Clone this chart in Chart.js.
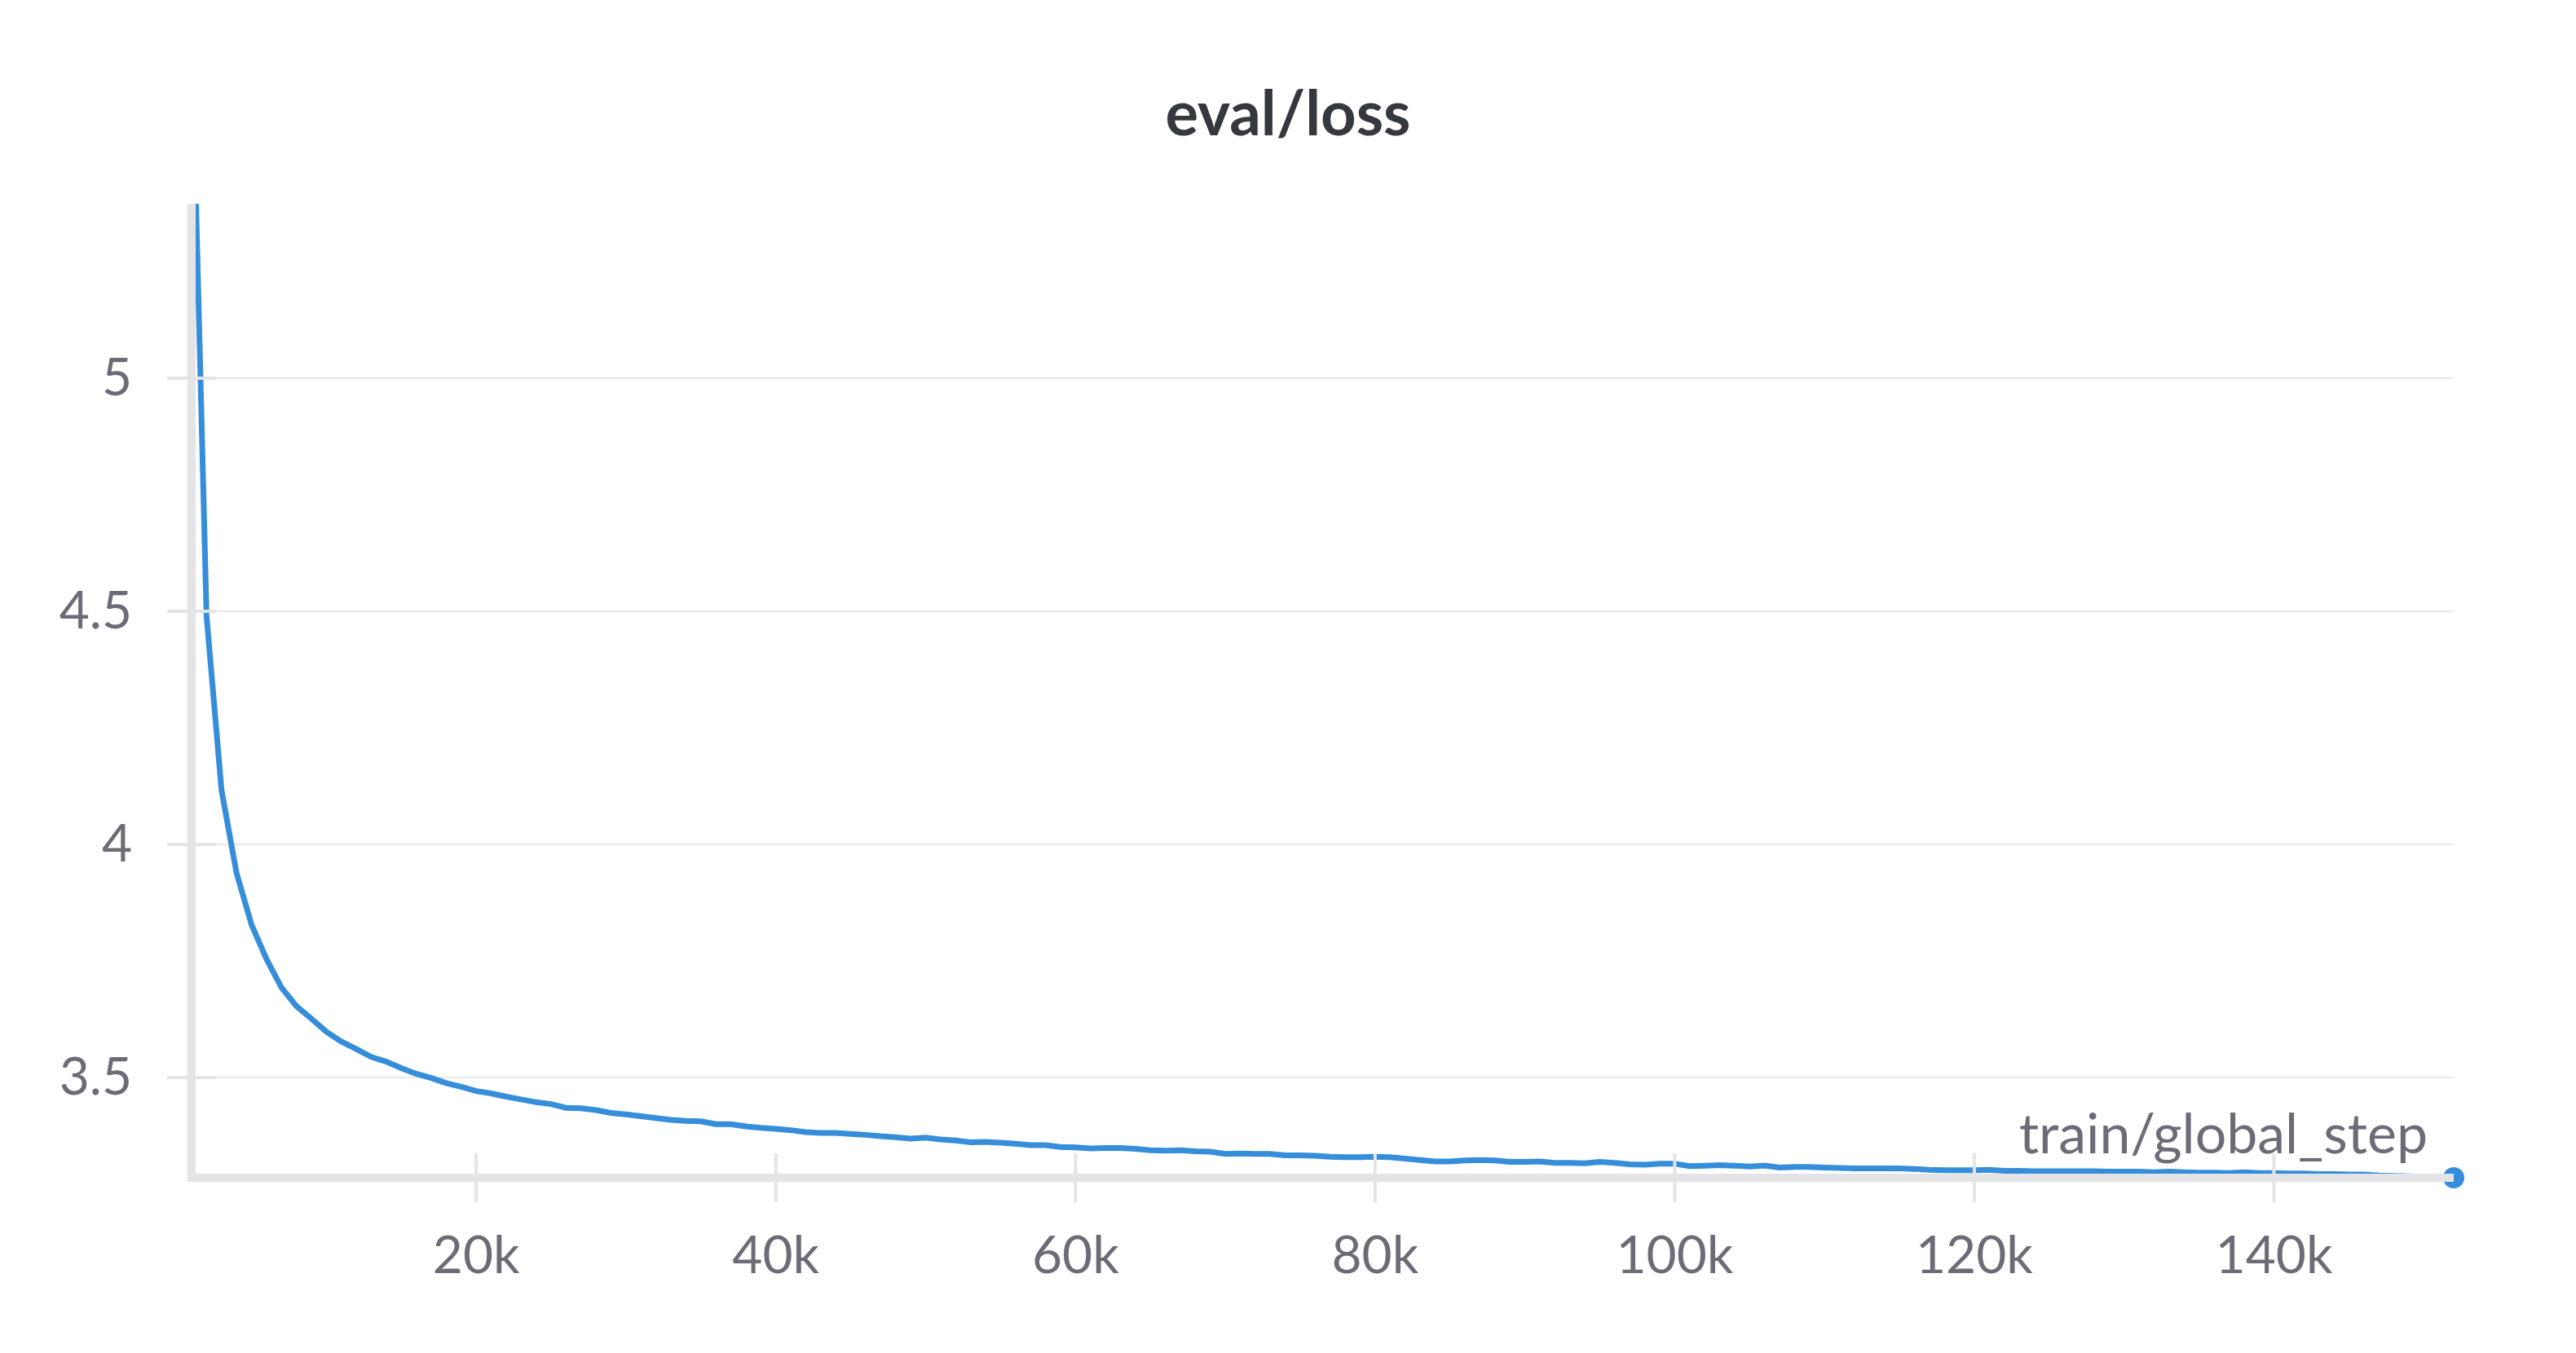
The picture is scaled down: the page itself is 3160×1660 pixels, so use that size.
<!DOCTYPE html>
<html>
<head>
<meta charset="utf-8">
<script src="https://cdn.jsdelivr.net/npm/chart.js@4.4.0/dist/chart.umd.min.js"></script>
<style>
    html, body { margin: 0; padding: 0; background: #ffffff; }
    #wrap { width: 3160px; height: 1660px; }
</style>
</head>
<body>
<div id="wrap"><canvas id="lossChart" width="3160" height="1660"></canvas></div>
<script>
        // eval/loss against train/global_step, one eval every 1000 steps
        const steps = [
            1000, 2000, 3000, 4000, 5000, 6000, 7000, 8000, 9000, 10000,
            11000, 12000, 13000, 14000, 15000, 16000, 17000, 18000, 19000, 20000,
            21000, 22000, 23000, 24000, 25000, 26000, 27000, 28000, 29000, 30000,
            31000, 32000, 33000, 34000, 35000, 36000, 37000, 38000, 39000, 40000,
            41000, 42000, 43000, 44000, 45000, 46000, 47000, 48000, 49000, 50000,
            51000, 52000, 53000, 54000, 55000, 56000, 57000, 58000, 59000, 60000,
            61000, 62000, 63000, 64000, 65000, 66000, 67000, 68000, 69000, 70000,
            71000, 72000, 73000, 74000, 75000, 76000, 77000, 78000, 79000, 80000,
            81000, 82000, 83000, 84000, 85000, 86000, 87000, 88000, 89000, 90000,
            91000, 92000, 93000, 94000, 95000, 96000, 97000, 98000, 99000, 100000,
            101000, 102000, 103000, 104000, 105000, 106000, 107000, 108000, 109000, 110000,
            111000, 112000, 113000, 114000, 115000, 116000, 117000, 118000, 119000, 120000,
            121000, 122000, 123000, 124000, 125000, 126000, 127000, 128000, 129000, 130000,
            131000, 132000, 133000, 134000, 135000, 136000, 137000, 138000, 139000, 140000,
            141000, 142000, 143000, 144000, 145000, 146000, 147000, 148000, 149000, 150000,
            151000, 152000
        ];
        const evalLoss = [
            5.750, 4.490, 4.116, 3.939, 3.828, 3.754, 3.693, 3.653, 3.626, 3.598,
            3.577, 3.561, 3.544, 3.534, 3.520, 3.508, 3.499, 3.488, 3.480, 3.471,
            3.466, 3.459, 3.453, 3.447, 3.443, 3.435, 3.434, 3.430, 3.424, 3.421,
            3.417, 3.413, 3.409, 3.407, 3.406, 3.400, 3.400, 3.395, 3.392, 3.390,
            3.387, 3.383, 3.381, 3.381, 3.379, 3.377, 3.374, 3.372, 3.369, 3.371,
            3.367, 3.365, 3.361, 3.362, 3.360, 3.358, 3.355, 3.355, 3.351, 3.350,
            3.348, 3.349, 3.349, 3.347, 3.344, 3.343, 3.344, 3.342, 3.341, 3.336,
            3.337, 3.336, 3.336, 3.333, 3.333, 3.332, 3.330, 3.329, 3.329, 3.330,
            3.329, 3.326, 3.323, 3.320, 3.320, 3.322, 3.323, 3.322, 3.319, 3.319,
            3.320, 3.317, 3.317, 3.316, 3.319, 3.317, 3.314, 3.313, 3.315, 3.315,
            3.310, 3.311, 3.312, 3.311, 3.309, 3.311, 3.307, 3.308, 3.308, 3.307,
            3.306, 3.305, 3.305, 3.305, 3.305, 3.304, 3.302, 3.301, 3.301, 3.301,
            3.302, 3.300, 3.300, 3.299, 3.299, 3.299, 3.299, 3.299, 3.298, 3.298,
            3.298, 3.297, 3.298, 3.297, 3.296, 3.296, 3.295, 3.297, 3.295, 3.295,
            3.294, 3.294, 3.293, 3.293, 3.292, 3.292, 3.290, 3.289, 3.288, 3.287,
            3.286, 3.285
        ];
        const xTicks = [20000, 40000, 60000, 80000, 100000, 120000, 140000];
        const yTicks = [3.5, 4, 4.5, 5];
        const yMin = 3.285;
        const yMax = 5.374;

        const lineBlue = '#368edb';
        const axisGrey = '#e4e4e7';
        const gridGrey = '#e8e8ea';
        const labelGrey = '#6c6c77';
        const fontFamily = "Lato, 'Noto Sans', sans-serif";

        // wandb-style axes: thick light axis lines and ticks that cross them, drawn over the line
        const axisDecor = {
            id: 'axisDecor',
            afterDatasetsDraw(chart) {
                const { ctx, chartArea, scales } = chart;
                const x = scales.x, y = scales.y;
                ctx.save();
                ctx.strokeStyle = axisGrey;
                ctx.lineWidth = 4;
                yTicks.forEach(v => {
                    const py = y.getPixelForValue(v);
                    ctx.beginPath();
                    ctx.moveTo(chartArea.left - 30, py);
                    ctx.lineTo(chartArea.left + 30, py);
                    ctx.stroke();
                });
                xTicks.forEach(v => {
                    const px = x.getPixelForValue(v);
                    ctx.beginPath();
                    ctx.moveTo(px, chartArea.bottom - 30);
                    ctx.lineTo(px, chartArea.bottom + 30);
                    ctx.stroke();
                });
                ctx.lineWidth = 10;
                ctx.beginPath();
                ctx.moveTo(chartArea.left, chartArea.top);
                ctx.lineTo(chartArea.left, chartArea.bottom + 5);
                ctx.moveTo(chartArea.left - 5, chartArea.bottom);
                ctx.lineTo(chartArea.right, chartArea.bottom);
                ctx.stroke();

                ctx.fillStyle = labelGrey;
                ctx.font = '68px ' + fontFamily;
                ctx.textAlign = 'right';
                ctx.textBaseline = 'alphabetic';
                ctx.fillText('train/global_step', chartArea.right - 32, chartArea.bottom - 30);

                // panel title, centred on the whole panel
                ctx.fillStyle = '#35383d';
                ctx.font = 'bold 76px ' + fontFamily;
                ctx.textAlign = 'center';
                ctx.fillText('eval/loss', chart.width / 2, 166);
                ctx.restore();
            }
        };

        const ctx = document.getElementById('lossChart').getContext('2d');
        new Chart(ctx, {
            type: 'line',
            data: {
                datasets: [{
                    label: 'eval/loss',
                    data: steps.map((s, i) => ({ x: s, y: evalLoss[i] })),
                    borderColor: lineBlue,
                    backgroundColor: lineBlue,
                    borderWidth: 7,
                    tension: 0,
                    pointRadius: c => c.dataIndex === steps.length - 1 ? 13 : 0,
                    pointBorderWidth: 0,
                    pointHoverRadius: 0,
                    clip: { left: 0, top: 0, right: 20, bottom: 20 }
                }]
            },
            options: {
                responsive: false,
                animation: false,
                layout: { padding: { top: 250, right: 150, bottom: 0, left: 0 } },
                plugins: {
                    legend: { display: false },
                    tooltip: { enabled: false },
                    title: { display: false }
                },
                scales: {
                    x: {
                        type: 'linear',
                        min: steps[0],
                        max: steps[steps.length - 1],
                        afterFit: s => { s.height = 215; },
                        afterBuildTicks: s => { s.ticks = xTicks.map(v => ({ value: v })); },
                        grid: { display: false, drawTicks: false },
                        border: { display: false },
                        ticks: {
                            color: labelGrey,
                            padding: 58,
                            maxRotation: 0,
                            font: { family: fontFamily, size: 64 },
                            callback: v => (v / 1000) + 'k'
                        }
                    },
                    y: {
                        min: yMin,
                        max: yMax,
                        afterFit: s => { s.width = 235; },
                        afterBuildTicks: s => { s.ticks = yTicks.map(v => ({ value: v })); },
                        grid: { color: gridGrey, lineWidth: 2, drawTicks: false },
                        border: { display: false },
                        ticks: {
                            color: labelGrey,
                            padding: 73,
                            font: { family: fontFamily, size: 64 },
                            callback: v => String(v)
                        }
                    }
                }
            },
            plugins: [axisDecor]
        });
</script>
</body>
</html>
